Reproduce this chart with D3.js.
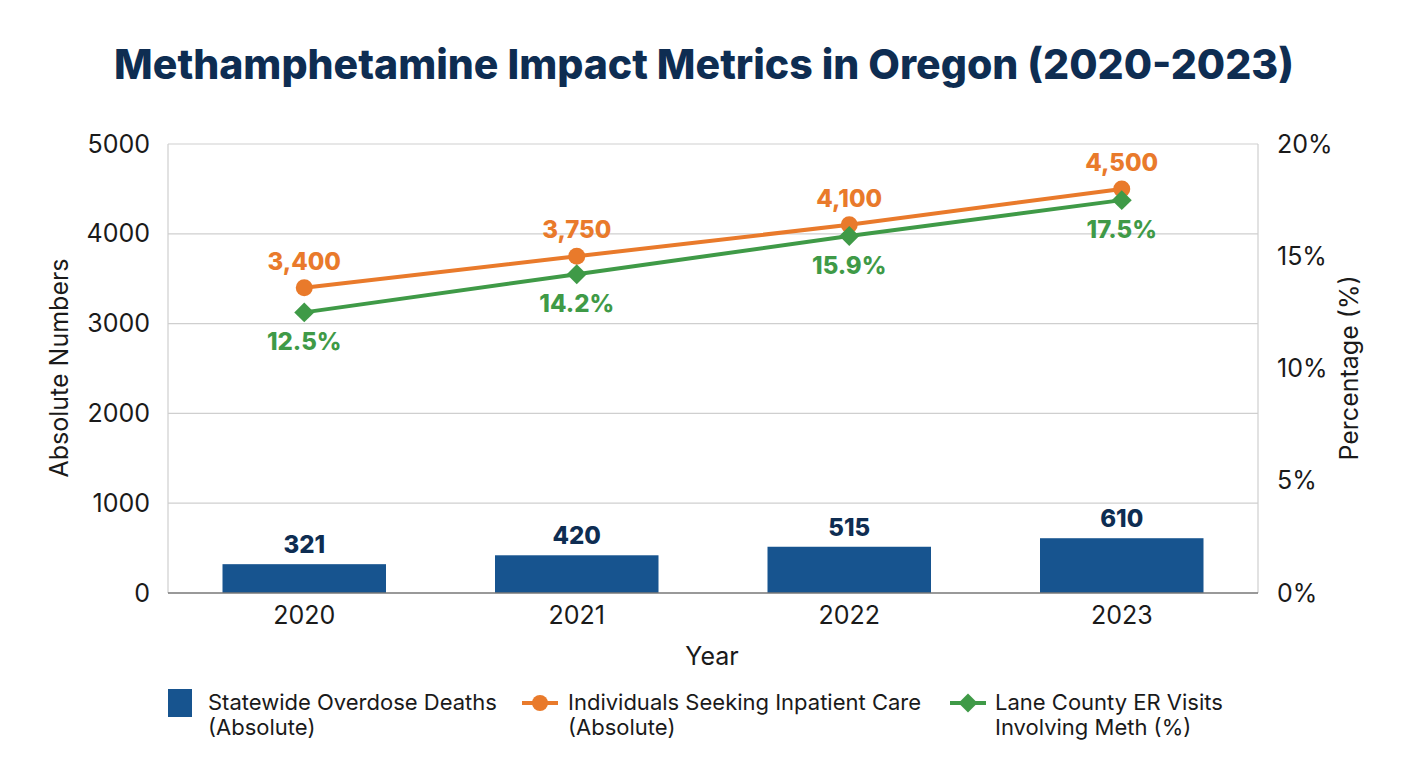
<!DOCTYPE html>
<html>
<head>
<meta charset="utf-8">
<script src="https://cdn.jsdelivr.net/npm/d3@7"></script>
<style>
  html, body { margin: 0; padding: 0; background: #fff; }
  svg { display: block; }
  text { font-family: Inter, "Noto Sans", sans-serif; }
</style>
</head>
<body>
<svg id="chart" width="1408" height="768"></svg>
<script>
const years = ["2020", "2021", "2022", "2023"];
const overdoseDeaths = [321, 420, 515, 610];
const inpatientCare = [3400, 3750, 4100, 4500];
const erVisitsPct = [12.5, 14.2, 15.9, 17.5];
const leftTicks = [0, 1000, 2000, 3000, 4000, 5000];
const rightTicks = [0, 5, 10, 15, 20];
const seriesNames = [
  ["Statewide Overdose Deaths", "(Absolute)"],
  ["Individuals Seeking Inpatient Care", "(Absolute)"],
  ["Lane County ER Visits", "Involving Meth (%)"]
];

const colors = { bar: "#17548f", orange: "#e97a2b", green: "#3f9a47", navy: "#0e2d52", text: "#1a1a1a" };

const svg = d3.select("#chart");
const m = { left: 168, right: 1258, top: 144, bottom: 593 };

const x = d3.scaleBand().domain(years).range([m.left, m.right]).paddingInner(0.4).paddingOuter(0.2);
const yL = d3.scaleLinear().domain([0, 5000]).range([m.bottom, m.top]);
const yR = d3.scaleLinear().domain([0, 20]).range([m.bottom, m.top]);
const cx = d => x(d) + x.bandwidth() / 2;

// Title
svg.append("text").attr("x", 704).attr("y", 79).attr("text-anchor", "middle")
  .attr("font-size", 41).attr("font-weight", 800).attr("fill", colors.navy)
  .text("Methamphetamine Impact Metrics in Oregon (2020-2023)");

// Gridlines
const grid = svg.append("g");
grid.selectAll("line.h").data(leftTicks.filter(t => t > 0)).join("line")
  .attr("x1", m.left).attr("x2", m.right)
  .attr("y1", d => yL(d)).attr("y2", d => yL(d))
  .attr("stroke", "#cfcfcf").attr("stroke-width", 1.2);
grid.append("line").attr("x1", m.left).attr("x2", m.left).attr("y1", m.top).attr("y2", m.bottom)
  .attr("stroke", "#cfcfcf").attr("stroke-width", 1.2);
grid.append("line").attr("x1", m.right).attr("x2", m.right).attr("y1", m.top).attr("y2", m.bottom)
  .attr("stroke", "#cfcfcf").attr("stroke-width", 1.2);

// Axes
const axL = svg.append("g").attr("transform", `translate(${m.left - 15},0)`)
  .call(d3.axisLeft(yL).tickValues(leftTicks).tickSize(0).tickFormat(d3.format("d")));
axL.select(".domain").remove();
axL.selectAll("text").attr("font-size", 25).attr("fill", colors.text).attr("font-family", "Inter, sans-serif");

const axR = svg.append("g").attr("transform", `translate(${m.right + 16},0)`)
  .call(d3.axisRight(yR).tickValues(rightTicks).tickSize(0).tickFormat(d => d + "%"));
axR.select(".domain").remove();
axR.selectAll("text").attr("font-size", 25).attr("fill", colors.text).attr("font-family", "Inter, sans-serif");

// Bars
svg.append("g").selectAll("rect").data(years).join("rect")
  .attr("x", d => x(d)).attr("width", x.bandwidth())
  .attr("y", (d, i) => yL(overdoseDeaths[i]))
  .attr("height", (d, i) => yL(0) - yL(overdoseDeaths[i]))
  .attr("fill", colors.bar);

svg.append("g").selectAll("text").data(years).join("text")
  .attr("x", d => cx(d)).attr("y", (d, i) => yL(overdoseDeaths[i]) - 11)
  .attr("text-anchor", "middle").attr("font-size", 24).attr("font-weight", 800)
  .attr("fill", colors.navy).text((d, i) => overdoseDeaths[i]);

// Bottom axis
const axB = svg.append("g").attr("transform", `translate(0,${m.bottom})`)
  .call(d3.axisBottom(x).tickSize(0).tickPadding(13));
axB.select(".domain").attr("stroke", "#777").attr("stroke-width", 1.5).attr("d", `M${m.left},0H${m.right}`);
axB.selectAll("text").attr("font-size", 25).attr("fill", colors.text).attr("font-family", "Inter, sans-serif");

// Axis titles
svg.append("text").attr("transform", "translate(68,368) rotate(-90)").attr("text-anchor", "middle")
  .attr("font-size", 25).attr("fill", colors.text).text("Absolute Numbers");
svg.append("text").attr("transform", "translate(1358,368) rotate(-90)").attr("text-anchor", "middle")
  .attr("font-size", 25).attr("fill", colors.text).text("Percentage (%)");
svg.append("text").attr("x", 712).attr("y", 665).attr("text-anchor", "middle")
  .attr("font-size", 25).attr("fill", colors.text).text("Year");

// Lines
const lineL = d3.line().x((d, i) => cx(years[i])).y(d => yL(d));
const lineR = d3.line().x((d, i) => cx(years[i])).y(d => yR(d));

svg.append("path").datum(inpatientCare).attr("d", lineL).attr("fill", "none")
  .attr("stroke", colors.orange).attr("stroke-width", 4);
svg.append("path").datum(erVisitsPct).attr("d", lineR).attr("fill", "none")
  .attr("stroke", colors.green).attr("stroke-width", 4);

svg.append("g").selectAll("circle").data(inpatientCare).join("circle")
  .attr("cx", (d, i) => cx(years[i])).attr("cy", d => yL(d)).attr("r", 8.5)
  .attr("fill", colors.orange);
svg.append("g").selectAll("path").data(erVisitsPct).join("path")
  .attr("transform", (d, i) => `translate(${cx(years[i])},${yR(d)}) rotate(45)`)
  .attr("d", d3.symbol().type(d3.symbolSquare).size(200))
  .attr("fill", colors.green);

// Point labels
svg.append("g").selectAll("text").data(inpatientCare).join("text")
  .attr("x", (d, i) => cx(years[i])).attr("y", d => yL(d) - 18)
  .attr("text-anchor", "middle").attr("font-size", 24).attr("font-weight", 800)
  .attr("fill", colors.orange).text(d => d3.format(",")(d));
svg.append("g").selectAll("text").data(erVisitsPct).join("text")
  .attr("x", (d, i) => cx(years[i])).attr("y", d => yR(d) + 38)
  .attr("text-anchor", "middle").attr("font-size", 24).attr("font-weight", 800)
  .attr("fill", colors.green).text(d => d3.format(".1f")(d) + "%");

// Legend
const lg = svg.append("g");
const legX = [168, 522, 950];
lg.append("rect").attr("x", legX[0]).attr("y", 689).attr("width", 24).attr("height", 28).attr("fill", colors.bar);
lg.append("line").attr("x1", legX[1]).attr("x2", legX[1] + 36).attr("y1", 703).attr("y2", 703)
  .attr("stroke", colors.orange).attr("stroke-width", 4);
lg.append("circle").attr("cx", legX[1] + 18).attr("cy", 703).attr("r", 8).attr("fill", colors.orange);
lg.append("line").attr("x1", legX[2]).attr("x2", legX[2] + 36).attr("y1", 703).attr("y2", 703)
  .attr("stroke", colors.green).attr("stroke-width", 4);
lg.append("path").attr("transform", `translate(${legX[2] + 18},703) rotate(45)`)
  .attr("d", d3.symbol().type(d3.symbolSquare).size(180)).attr("fill", colors.green);

const textX = [208, 568, 995];
seriesNames.forEach((lines, i) => {
  const t = lg.append("text").attr("x", textX[i]).attr("y", 710).attr("font-size", 22).attr("fill", colors.text);
  lines.forEach((l, j) => t.append("tspan").attr("x", textX[i]).attr("dy", j === 0 ? 0 : 25).text(l));
});
</script>
</body>
</html>
